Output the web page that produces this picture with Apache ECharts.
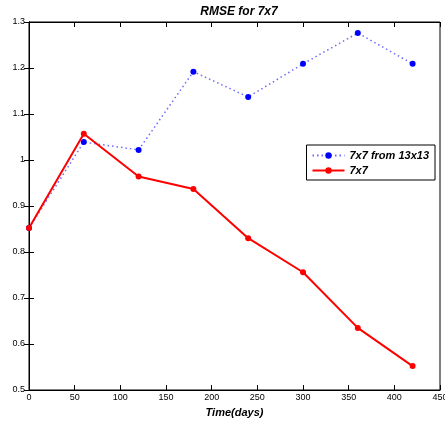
<!DOCTYPE html>
<html><head><meta charset="utf-8">
<script src="https://cdn.jsdelivr.net/npm/echarts@6/dist/echarts.min.js"></script>
<style>html,body{margin:0;padding:0;background:#fff}#c{width:445px;height:423px}</style>
</head><body><div id="c"></div>
<script>
const days = [0, 60, 120, 180, 240, 300, 360, 420];
const from13 = [0.852, 1.039, 1.022, 1.192, 1.137, 1.209, 1.276, 1.209];
const direct7 = [0.852, 1.057, 0.964, 0.937, 0.830, 0.756, 0.635, 0.552];
const names = ['7x7 from 13x13', '7x7'];
const font = 'Liberation Sans, Arial, sans-serif';
const chart = echarts.init(document.getElementById('c'));
const axisCommon = {
  axisLine: {show: true, lineStyle: {color: '#000', width: 1}},
  axisTick: {show: true, inside: true, length: 5, lineStyle: {color: '#000'}},
  splitLine: {show: false}
};
chart.setOption({
  animation: false,
  backgroundColor: '#fff',
  title: {text: 'RMSE for 7x7', left: 234, top: 1, textAlign: 'center',
    textStyle: {fontFamily: font, fontSize: 12, fontWeight: 'bold', fontStyle: 'italic', color: '#000'}},
  grid: {left: 29, right: 5, top: 22, bottom: 33, show: true, borderColor: '#000', borderWidth: 1,
    containLabel: false, outerBoundsMode: 'none'},
  legend: {
    orient: 'vertical', right: 10, top: 145, itemWidth: 32, itemHeight: 8, itemGap: 4,
    padding: [5, 6, 4, 5], backgroundColor: '#fff', borderColor: '#000', borderWidth: 1, borderRadius: 0,
    textStyle: {fontFamily: font, fontSize: 11, fontWeight: 'bold', fontStyle: 'italic', color: '#000'},
    data: names
  },
  xAxis: [
    Object.assign({type: 'value', min: 0, max: 450, interval: 50, position: 'bottom',
      name: 'Time(days)', nameLocation: 'middle', nameGap: 17,
      nameTextStyle: {fontFamily: font, fontSize: 11, fontWeight: 'bold', fontStyle: 'italic', color: '#000'},
      axisLabel: {fontFamily: font, fontSize: 9, color: '#000', margin: 3}}, axisCommon),
    Object.assign({type: 'value', min: 0, max: 450, interval: 50, position: 'top', axisLabel: {show: false}}, axisCommon)
  ],
  yAxis: [
    Object.assign({type: 'value', min: 0.5, max: 1.3, interval: 0.1, position: 'left',
      axisLabel: {fontFamily: font, fontSize: 9, color: '#000', margin: 4, formatter: v => String(Math.round(v*10)/10)}}, axisCommon),
    Object.assign({type: 'value', min: 0.5, max: 1.3, interval: 0.1, position: 'right', axisLabel: {show: false}}, axisCommon)
  ],
  series: [
    {name: names[0], type: 'line', data: days.map((d, i) => [d, from13[i]]),
      symbol: 'circle', symbolSize: 6, color: '#0000ff',
      lineStyle: {color: '#6b6bff', width: 1.5, type: [1.5, 3]}, itemStyle: {color: '#0000ff'}},
    {name: names[1], type: 'line', data: days.map((d, i) => [d, direct7[i]]),
      symbol: 'circle', symbolSize: 6, color: '#ff0000',
      lineStyle: {color: '#ff0000', width: 2}, itemStyle: {color: '#ff0000'}}
  ]
});
</script></body></html>
